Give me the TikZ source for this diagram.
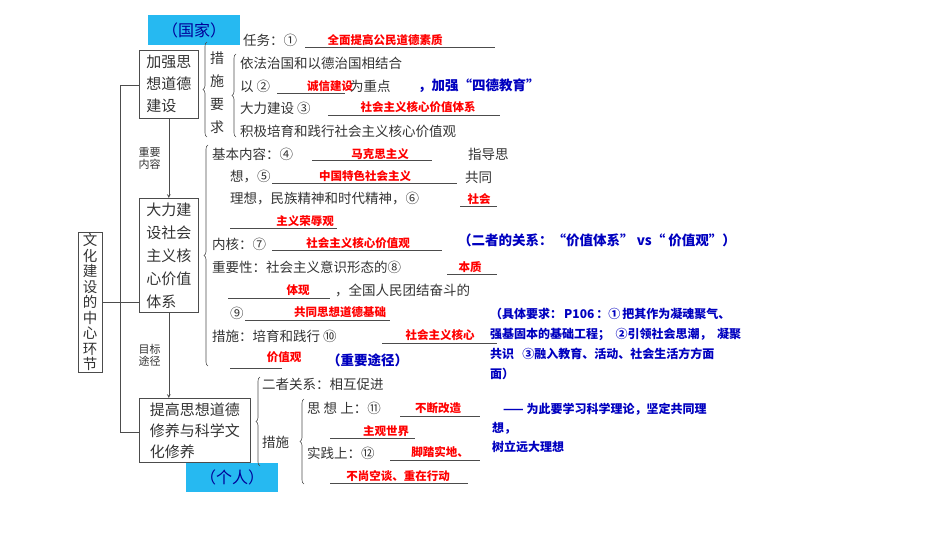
\documentclass[tikz,border=0pt]{standalone}
\usepackage{fontspec}
\setmainfont{Noto Sans CJK SC}
\usetikzlibrary{decorations.pathreplacing}
\begin{document}
\begin{tikzpicture}[x=1pt,y=1pt,
  bk/.style={anchor=west,inner sep=0,font=\fontsize{13.5}{13}\selectfont,text=black!80},
  rd/.style={inner sep=0,font=\fontsize{11.5}{11}\selectfont\bfseries,text=red},
  bl/.style={anchor=west,inner sep=0,font=\fontsize{13.5}{14}\selectfont\bfseries,text=blue!75!black},
  ul/.style={draw=black!70,line width=0.6pt},
  bx/.style={draw=black!70,line width=0.7pt,align=left,inner sep=2pt,font=\fontsize{15}{22}\selectfont,text=black!80},
  cy/.style={fill=cyan!85!white,inner sep=0,font=\fontsize{16}{16}\selectfont,text=blue!60!black},
  ln/.style={draw=black!70,line width=0.7pt},
  br/.style={draw=black!70,line width=0.6pt,decorate,decoration={brace,amplitude=4pt}},
  lab/.style={inner sep=0,font=\fontsize{11}{12}\selectfont,align=center,text=black!80}]
\useasboundingbox (0,0) rectangle (950,-535);
\node[draw=black!70,line width=0.7pt,minimum width=24,minimum height=140,inner sep=1pt,font=\fontsize{14.5}{15.5}\selectfont,align=center,text=black!80] (main) at (90,-302) {文\\化\\建\\设\\的\\中\\心\\环\\节};
\coordinate (j) at (120,-302);
\draw[ln] (main.east) -- (j);
\node[bx,minimum width=59,minimum height=68,anchor=north west] (b1) at (139,-50) {加强思\\想道德\\建设};
\node[bx,minimum width=59,minimum height=114,anchor=north west,font=\fontsize{15}{23}\selectfont] (b2) at (139,-198) {大力建\\设社会\\主义核\\心价值\\体系};
\node[bx,minimum width=111,minimum height=64,anchor=north west,font=\fontsize{15}{21}\selectfont] (b3) at (139,-398) {提高思想道德\\修养与科学文\\化修养};
\coordinate (jt) at (120,-85);
\coordinate (jb) at (120,-432);
\draw[ln] (b1.west|-jt) -- (jt) -- (jb) -- (b3.west|-jb);
\draw[ln] (j) -- (b2.west|-j);
\draw[ln,-stealth] (b1.south) -- (b2.north) node[lab,midway,left=8pt] (l1) {重要\\内容};
\draw[ln,-stealth] (b2.south) -- (b2.south|-b3.north) node[lab,midway,left=8pt] (l2) {目标\\途径};
\node[cy,minimum width=92,minimum height=30,anchor=north west] (guo) at (148,-15) {（国家）};
\node[cy,minimum width=92,minimum height=29,anchor=north west] (ren) at (186,-463) {（个人）};
\draw[br] (207,-137) -- (207,-42);
\node[bk,anchor=north,align=center,font=\fontsize{14}{23}\selectfont] (cs) at (217,-52) {措\\施\\要\\求};
\draw[br] (236,-137) -- (236,-54);
\node[bk] (t1) at (243,-40) {任务：①};
\draw[ul] (305,-47) -- (495,-47); \node[rd] (a1) at (385,-40) {全面提高公民道德素质};
\node[bk] (t2) at (240,-63) {依法治国和以德治国相结合};
\node[bk] (t3) at (240,-86) {以 ②};
\draw[ul] (277,-93) -- (345,-93); \node[rd] (a2) at (330,-86) {诚信建设};
\node[bk] (t3b) at (350,-86) {为重点};
\node[bl] (q1) at (418,-86) {，加强“四德教育”};
\node[bk] (t4) at (240,-108) {大力建设 ③};
\draw[ul] (328,-115) -- (500,-115); \node[rd] (a3) at (418,-107) {社会主义核心价值体系};
\node[bk] (t5) at (240,-131) {积极培育和践行社会主义核心价值观};
\draw[br] (208,-366) -- (208,-145);
\node[bk] (s1) at (212,-154) {基本内容：④};
\draw[ul] (312,-160) -- (432,-160); \node[rd] (a4) at (380,-154) {马克思主义};
\node[bk] (s1b) at (468,-154) {指导思};
\node[bk] (s2) at (230,-177) {想，⑤};
\draw[ul] (272,-183) -- (457,-183); \node[rd] (a5) at (365,-176) {中国特色社会主义};
\node[bk] (s2b) at (465,-177) {共同};
\node[bk] (s3) at (230,-199) {理想，民族精神和时代精神，⑥};
\draw[ul] (460,-206) -- (497,-206); \node[rd] (a6) at (479,-199) {社会};
\draw[ul] (230,-228) -- (337,-228); \node[rd] (a6b) at (305,-221) {主义荣辱观};
\node[bk] (s4) at (212,-244) {内核：⑦};
\draw[ul] (272,-250) -- (442,-250); \node[rd] (a7) at (358,-243) {社会主义核心价值观};
\node[bl] (q2) at (458,-240) {（二者的关系：“价值体系” vs“ 价值观”）};
\node[bk] (s5) at (212,-267) {重要性：社会主义意识形态的⑧};
\draw[ul] (447,-274) -- (497,-274); \node[rd] (a8) at (470,-267) {本质};
\draw[ul] (228,-298) -- (330,-298); \node[rd] (a8b) at (298,-290) {体现};
\node[bk] (s6) at (335,-290) {，全国人民团结奋斗的};
\node[bk] (s7) at (230,-313) {⑨};
\draw[ul] (245,-320) -- (390,-320); \node[rd] (a9) at (340,-312) {共同思想道德基础};
\node[bk] (s8) at (212,-336) {措施：培育和践行 ⑩};
\draw[ul] (382,-343) -- (497,-343); \node[rd] (a10) at (440,-335) {社会主义核心};
\draw[ul] (230,-368) -- (282,-368); \node[rd] (a10b) at (284,-357) {价值观};
\node[bl] (q3) at (327,-360) {（重要途径）};
\node[bl,align=left,font=\fontsize{12}{20}\selectfont\bfseries] (q4) at (490,-344) {（具体要求：\,P106\,：①\,把其作为凝魂聚气、\\强基固本的基础工程；\ \ ②引领社会思潮，\ \ 凝聚\\共识\ \ \ ③融入教育、活动、社会生活方方面\\面）};
\draw[br] (260,-466) -- (260,-377);
\node[bk] (r1) at (262,-384) {二者关系：相互促进};
\node[bk] (r2) at (262,-442) {措施};
\draw[br] (304,-484) -- (304,-399);
\node[bk] (r3) at (307,-408) {思 想 上：⑪};
\draw[ul] (400,-416) -- (480,-416); \node[rd] (a11) at (438,-408) {不断改造};
\draw[ul] (330,-438) -- (415,-438); \node[rd] (a11b) at (386,-431) {主观世界};
\node[bk] (r4) at (307,-453) {实践上：⑫};
\draw[ul] (390,-460) -- (480,-460); \node[rd] (a12) at (440,-452) {脚踏实地、};
\draw[ul] (330,-483) -- (468,-483); \node[rd] (a12b) at (398,-476) {不尚空谈、重在行动};
\node[bl,align=left,font=\fontsize{12}{19}\selectfont\bfseries] (q5) at (492,-428) {\ \ \ \ —— 为此要学习科学理论，坚定共同理\\想，\\树立远大理想};
\end{tikzpicture}
\end{document}
